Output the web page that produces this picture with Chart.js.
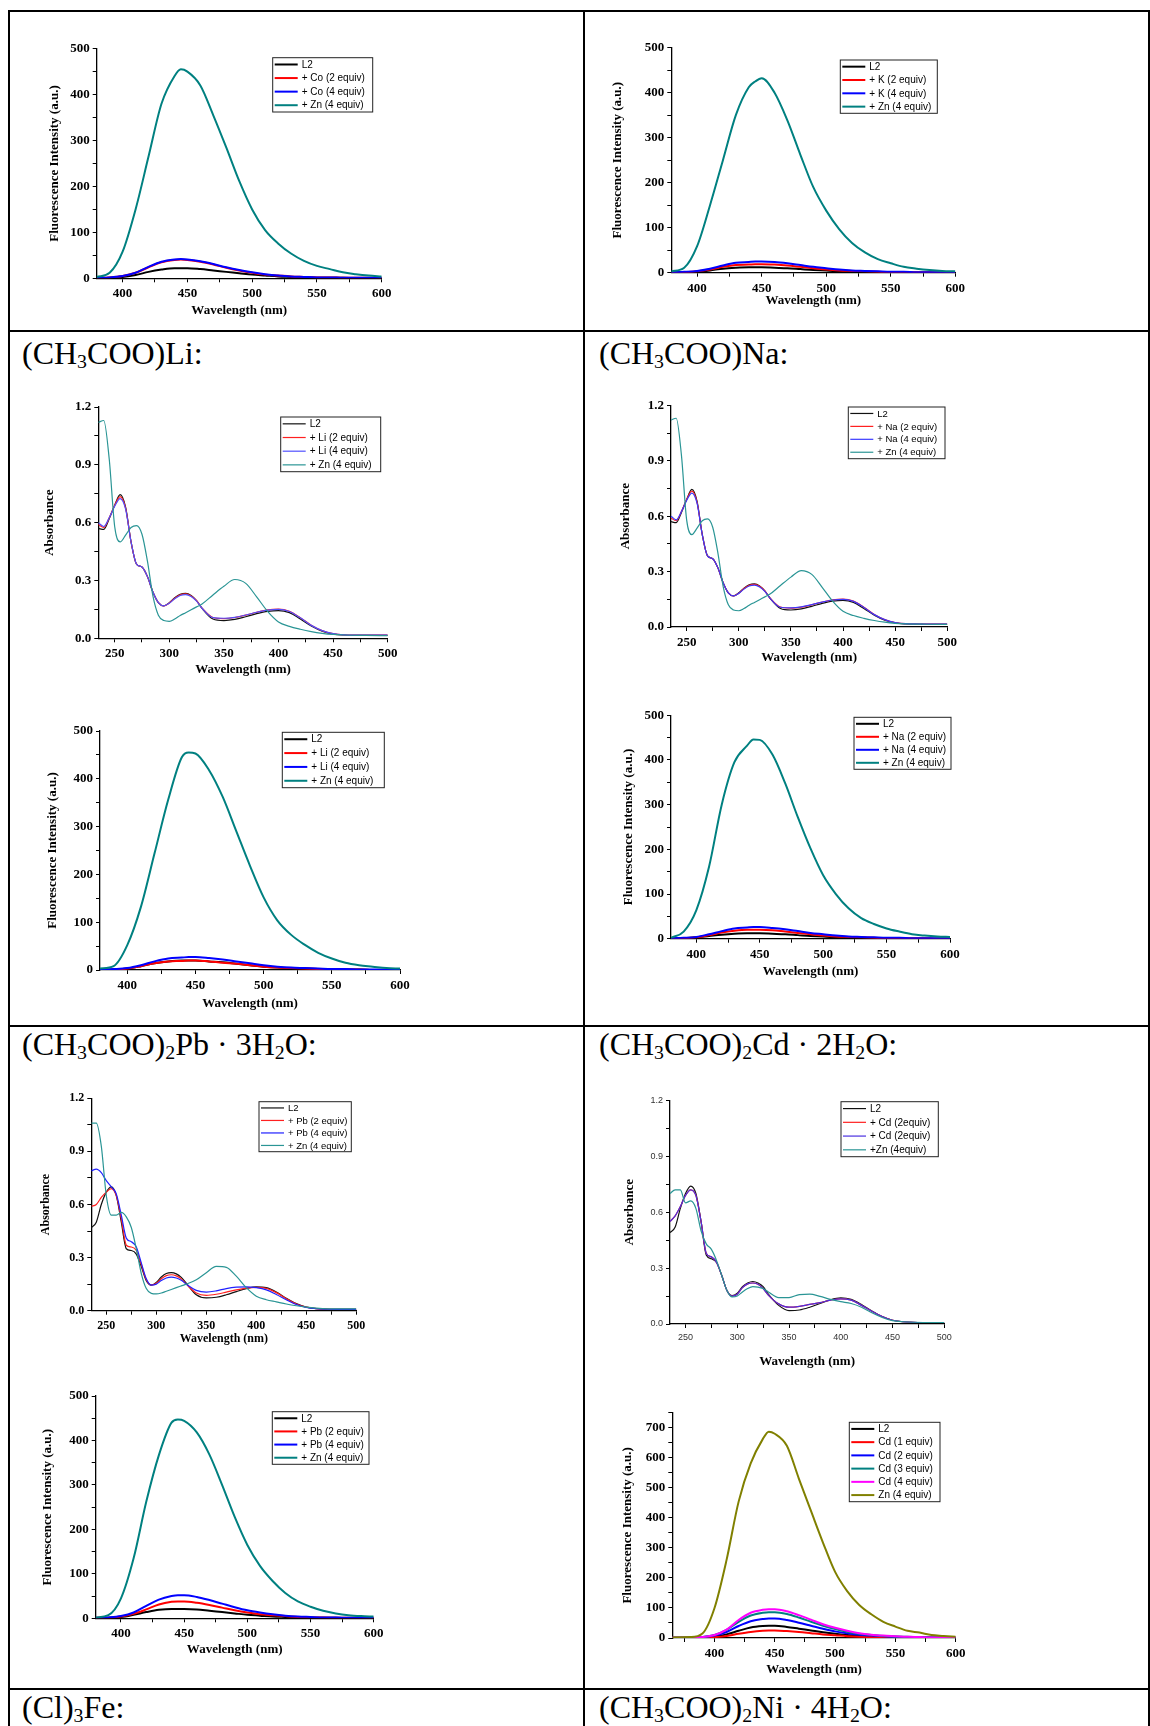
<!DOCTYPE html>
<html>
<head>
<meta charset="utf-8">
<script src="https://cdn.jsdelivr.net/npm/chart.js@4.4.1/dist/chart.umd.min.js"></script>
<style>
  html, body { margin: 0; padding: 0; background: #fff; }
  body { width: 1150px; height: 1726px; position: relative; overflow: hidden;
         font-family: "Liberation Serif", "Times New Roman", serif; }
  .rule { position: absolute; background: #000; }
  .head { position: absolute; font-size: 32px; line-height: 32px; white-space: nowrap; color: #000; }
  .head sub { font-size: 0.62em; vertical-align: -0.2em; line-height: 0; }
  canvas { position: absolute; }
</style>
</head>
<body>
<!-- table grid -->
<div class="rule" style="left:8px;top:10px;width:1142px;height:2px"></div>
<div class="rule" style="left:8px;top:10px;width:2px;height:1716px"></div>
<div class="rule" style="left:583px;top:10px;width:2px;height:1716px"></div>
<div class="rule" style="left:1148px;top:10px;width:2px;height:1716px"></div>
<div class="rule" style="left:8px;top:330px;width:1142px;height:2px"></div>
<div class="rule" style="left:8px;top:1025px;width:1142px;height:2px"></div>
<div class="rule" style="left:8px;top:1688px;width:1142px;height:2px"></div>

<div class="head" style="left:22px;top:337px">(CH<sub>3</sub>COO)Li:</div>
<div class="head" style="left:599px;top:337px">(CH<sub>3</sub>COO)Na:</div>
<div class="head" style="left:22px;top:1028px">(CH<sub>3</sub>COO)<sub>2</sub>Pb · 3H<sub>2</sub>O:</div>
<div class="head" style="left:599px;top:1028px">(CH<sub>3</sub>COO)<sub>2</sub>Cd · 2H<sub>2</sub>O:</div>
<div class="head" style="left:22px;top:1691px">(Cl)<sub>3</sub>Fe:</div>
<div class="head" style="left:599px;top:1691px">(CH<sub>3</sub>COO)<sub>2</sub>Ni · 4H<sub>2</sub>O:</div>

<script>
const SERIF = '"Liberation Serif", "Times New Roman", serif';
const SANS = '"Liberation Sans", Arial, sans-serif';

// emission spectra, wavelength in nm
const flWl = [380, 390, 400, 410, 420, 430, 440, 445, 450, 460, 470, 480, 490, 500, 510, 520, 530, 540, 550, 560, 570, 580, 590, 600];

const coL2  = [0, 1, 3, 7, 14, 19, 22, 22, 22, 20, 17, 14, 11, 8, 6, 4, 3, 2, 1, 1, 1, 0, 0, 0];
const coCo2 = [1, 2, 5, 12, 24, 35, 40, 41, 40, 36, 30, 23, 17, 12, 8, 6, 4, 3, 2, 2, 1, 1, 1, 1];
const coCo4 = [1, 2, 5, 12, 25, 36, 41, 42, 41, 37, 31, 24, 18, 13, 9, 6, 4, 3, 2, 2, 1, 1, 1, 1];
const coZn  = [3, 12, 58, 150, 265, 380, 440, 455, 450, 420, 355, 285, 212, 150, 105, 76, 54, 38, 27, 20, 13, 9, 6, 4];

const kL2 = [0, 1, 2, 5, 9, 11, 12, 12, 12, 11, 10, 8, 6, 5, 3, 2, 2, 1, 1, 1, 0, 0, 0, 0];
const kK2 = [0, 1, 3, 7, 13, 17, 18, 19, 19, 18, 16, 13, 10, 7, 5, 4, 3, 2, 1, 1, 1, 1, 0, 0];
const kK4 = [1, 2, 4, 9, 16, 22, 24, 25, 25, 24, 21, 17, 13, 10, 7, 5, 4, 3, 2, 2, 1, 1, 1, 1];
const kZn = [3, 11, 59, 150, 250, 350, 412, 425, 432, 400, 338, 262, 190, 138, 97, 66, 45, 30, 21, 13, 9, 6, 4, 3];

const liL2  = [0, 1, 3, 8, 14, 18, 20, 20, 20, 18, 16, 13, 10, 7, 5, 4, 3, 2, 1, 1, 1, 0, 0, 0];
const liLi2 = [0, 1, 3, 8, 14, 18, 19, 20, 20, 18, 15, 13, 10, 7, 5, 4, 3, 2, 1, 1, 1, 0, 0, 0];
const liLi4 = [1, 2, 4, 10, 18, 24, 26, 27, 27, 25, 22, 18, 14, 10, 7, 5, 4, 3, 2, 2, 1, 1, 1, 1];
const liZn  = [3, 8, 52, 132, 244, 356, 445, 455, 453, 418, 362, 290, 218, 152, 104, 74, 53, 36, 24, 15, 10, 7, 4, 3];

const naL2  = [0, 1, 3, 6, 9, 11, 12, 12, 12, 11, 10, 8, 6, 5, 3, 2, 2, 1, 1, 1, 0, 0, 0, 0];
const naNa2 = [0, 1, 3, 8, 14, 18, 20, 20, 20, 19, 16, 13, 10, 7, 5, 4, 3, 2, 1, 1, 1, 1, 0, 0];
const naNa4 = [1, 2, 4, 10, 17, 23, 25, 26, 26, 24, 21, 17, 13, 10, 7, 5, 4, 3, 2, 2, 1, 1, 1, 1];
const naZn  = [2, 16, 64, 161, 300, 395, 432, 446, 445, 412, 348, 272, 202, 142, 100, 68, 46, 33, 23, 16, 10, 7, 5, 4];

const pbL2  = [0, 1, 3, 8, 14, 19, 21, 21, 21, 20, 17, 14, 11, 8, 6, 4, 3, 2, 1, 1, 1, 0, 0, 0];
const pbPb2 = [1, 1, 4, 10, 20, 31, 37, 38, 38, 35, 30, 24, 18, 13, 9, 7, 5, 3, 2, 2, 1, 1, 1, 1];
const pbPb4 = [1, 2, 5, 13, 28, 42, 50, 52, 52, 48, 41, 33, 25, 18, 13, 9, 6, 4, 3, 2, 2, 1, 1, 1];
const pbZn  = [2, 7, 45, 135, 262, 367, 440, 447, 444, 418, 368, 300, 228, 165, 118, 84, 57, 38, 26, 17, 11, 7, 5, 4];

const cdWl  = [365, 380, 390, 400, 410, 420, 430, 440, 445, 450, 460, 470, 480, 490, 500, 510, 520, 530, 540, 550, 560, 570, 580, 590, 600];
const cdL2  = [1, 1, 2, 5, 12, 24, 35, 40, 41, 41, 37, 31, 25, 19, 14, 10, 7, 5, 4, 3, 2, 2, 1, 1, 1];
const cdCd1 = [1, 1, 1, 3, 7, 14, 20, 24, 25, 25, 23, 20, 16, 12, 9, 6, 4, 3, 2, 2, 1, 1, 1, 1, 1];
const cdCd2 = [1, 1, 3, 8, 20, 40, 56, 63, 65, 65, 60, 51, 41, 31, 22, 16, 11, 8, 6, 4, 3, 2, 2, 1, 1];
const cdCd3 = [1, 1, 3, 10, 27, 54, 75, 84, 86, 86, 80, 68, 54, 41, 30, 21, 14, 10, 7, 5, 4, 3, 2, 2, 1];
const cdCd4 = [1, 1, 3, 10, 28, 60, 84, 94, 96, 96, 89, 76, 61, 46, 34, 24, 16, 11, 8, 6, 4, 3, 2, 2, 1];
const cdZn  = [2, 3, 15, 100, 260, 454, 581, 662, 687, 680, 640, 530, 423, 317, 220, 156, 110, 79, 54, 38, 24, 18, 10, 7, 4];

// absorption spectra, wavelength in nm
const absWl = [235, 240, 245, 250, 255, 260, 265, 270, 275, 280, 285, 290, 295, 300, 305, 310, 315, 320, 325, 330,
               340, 350, 360, 370, 380, 390, 400, 410, 420, 430, 440, 450, 460, 480, 500];

const liAbsL2  = [0.57, 0.565, 0.62, 0.69, 0.745, 0.68, 0.50, 0.385, 0.37, 0.32, 0.24, 0.185, 0.168, 0.185, 0.21, 0.228, 0.233, 0.222, 0.195, 0.155,
                  0.10, 0.092, 0.098, 0.112, 0.128, 0.14, 0.144, 0.133, 0.10, 0.064, 0.037, 0.022, 0.017, 0.015, 0.015];
const liAbsLi2 = [0.59, 0.575, 0.625, 0.69, 0.735, 0.675, 0.50, 0.385, 0.37, 0.32, 0.24, 0.185, 0.168, 0.183, 0.208, 0.226, 0.231, 0.22, 0.195, 0.157,
                  0.108, 0.102, 0.108, 0.12, 0.135, 0.147, 0.151, 0.14, 0.107, 0.068, 0.04, 0.024, 0.018, 0.016, 0.016];
const liAbsLi4 = [0.60, 0.58, 0.625, 0.685, 0.725, 0.67, 0.50, 0.385, 0.37, 0.32, 0.24, 0.185, 0.168, 0.182, 0.205, 0.222, 0.227, 0.217, 0.193, 0.156,
                  0.107, 0.104, 0.109, 0.121, 0.135, 0.146, 0.15, 0.139, 0.106, 0.067, 0.04, 0.024, 0.018, 0.016, 0.016];
const liAbsZn  = [1.12, 1.13, 0.93, 0.58, 0.50, 0.535, 0.575, 0.585, 0.54, 0.40, 0.22, 0.12, 0.092, 0.088, 0.10, 0.118, 0.133, 0.148, 0.163, 0.178,
                  0.225, 0.27, 0.305, 0.285, 0.215, 0.14, 0.085, 0.062, 0.047, 0.035, 0.026, 0.02, 0.017, 0.015, 0.014];

const naAbsL2  = [0.57, 0.565, 0.62, 0.69, 0.745, 0.68, 0.50, 0.385, 0.37, 0.32, 0.24, 0.185, 0.168, 0.185, 0.21, 0.228, 0.233, 0.222, 0.195, 0.155,
                  0.10, 0.092, 0.098, 0.112, 0.128, 0.14, 0.144, 0.133, 0.10, 0.064, 0.037, 0.022, 0.017, 0.015, 0.015];
const naAbsNa2 = [0.59, 0.575, 0.625, 0.69, 0.735, 0.675, 0.50, 0.385, 0.37, 0.32, 0.24, 0.185, 0.168, 0.183, 0.208, 0.226, 0.231, 0.22, 0.195, 0.157,
                  0.108, 0.102, 0.108, 0.12, 0.135, 0.147, 0.151, 0.14, 0.107, 0.068, 0.04, 0.024, 0.018, 0.016, 0.016];
const naAbsNa4 = [0.60, 0.58, 0.625, 0.685, 0.725, 0.67, 0.50, 0.385, 0.37, 0.32, 0.24, 0.185, 0.168, 0.182, 0.205, 0.222, 0.227, 0.217, 0.193, 0.156,
                  0.107, 0.104, 0.109, 0.121, 0.135, 0.146, 0.15, 0.139, 0.106, 0.067, 0.04, 0.024, 0.018, 0.016, 0.016];
const naAbsZn  = [1.12, 1.13, 0.93, 0.58, 0.50, 0.535, 0.575, 0.585, 0.54, 0.40, 0.22, 0.12, 0.092, 0.088, 0.10, 0.118, 0.133, 0.148, 0.163, 0.178,
                  0.225, 0.27, 0.305, 0.285, 0.215, 0.14, 0.085, 0.062, 0.047, 0.035, 0.026, 0.02, 0.017, 0.015, 0.014];

const pbAbsL2  = [0.47, 0.50, 0.60, 0.67, 0.70, 0.65, 0.50, 0.35, 0.34, 0.32, 0.25, 0.17, 0.145, 0.16, 0.19, 0.21, 0.215, 0.208, 0.188, 0.155,
                  0.09, 0.072, 0.076, 0.09, 0.108, 0.125, 0.135, 0.13, 0.105, 0.07, 0.04, 0.02, 0.012, 0.008, 0.008];
const pbAbsPb2 = [0.59, 0.60, 0.64, 0.67, 0.69, 0.65, 0.52, 0.37, 0.36, 0.34, 0.26, 0.175, 0.145, 0.155, 0.18, 0.198, 0.203, 0.197, 0.18, 0.15,
                  0.10, 0.087, 0.093, 0.105, 0.118, 0.128, 0.132, 0.126, 0.102, 0.068, 0.038, 0.02, 0.012, 0.008, 0.008];
const pbAbsPb4 = [0.79, 0.80, 0.78, 0.735, 0.70, 0.66, 0.54, 0.41, 0.39, 0.36, 0.27, 0.18, 0.145, 0.15, 0.17, 0.185, 0.19, 0.185, 0.172, 0.15,
                  0.115, 0.105, 0.112, 0.125, 0.133, 0.135, 0.13, 0.118, 0.092, 0.062, 0.035, 0.018, 0.011, 0.008, 0.008];
const pbAbsZn  = [1.06, 1.06, 0.93, 0.65, 0.54, 0.54, 0.555, 0.53, 0.47, 0.35, 0.21, 0.125, 0.098, 0.095, 0.10, 0.11, 0.12, 0.13, 0.14, 0.15,
                  0.175, 0.215, 0.25, 0.245, 0.195, 0.13, 0.082, 0.062, 0.05, 0.038, 0.028, 0.02, 0.015, 0.01, 0.01];

const cdAbsL2  = [0.49, 0.52, 0.62, 0.70, 0.74, 0.70, 0.55, 0.37, 0.35, 0.33, 0.26, 0.18, 0.152, 0.165, 0.20, 0.22, 0.228, 0.22, 0.20, 0.16,
                  0.10, 0.072, 0.075, 0.09, 0.11, 0.13, 0.14, 0.132, 0.105, 0.07, 0.04, 0.02, 0.012, 0.008, 0.008];
const cdAbsCdA = [0.55, 0.58, 0.63, 0.69, 0.72, 0.69, 0.55, 0.38, 0.36, 0.33, 0.26, 0.18, 0.15, 0.16, 0.195, 0.215, 0.22, 0.213, 0.19, 0.155,
                  0.108, 0.09, 0.095, 0.105, 0.115, 0.128, 0.135, 0.128, 0.10, 0.068, 0.04, 0.02, 0.012, 0.008, 0.008];
const cdAbsCdB = [0.55, 0.58, 0.63, 0.69, 0.72, 0.69, 0.55, 0.38, 0.36, 0.33, 0.26, 0.18, 0.15, 0.16, 0.195, 0.215, 0.22, 0.213, 0.19, 0.155,
                  0.108, 0.09, 0.095, 0.105, 0.115, 0.128, 0.135, 0.128, 0.10, 0.068, 0.04, 0.02, 0.012, 0.008, 0.008];
const cdAbsZn  = [0.70, 0.72, 0.72, 0.65, 0.66, 0.62, 0.50, 0.43, 0.40, 0.34, 0.26, 0.18, 0.145, 0.15, 0.172, 0.19, 0.20, 0.198, 0.19, 0.172,
                  0.142, 0.142, 0.158, 0.16, 0.148, 0.132, 0.12, 0.11, 0.09, 0.06, 0.035, 0.018, 0.012, 0.008, 0.008];

const FL_TITLE = "Fluorescence Intensity (a.u.)";
const ABS_TITLE = "Absorbance";

// framed legend box, drawn in canvas coordinates
const boxLegend = {
  id: "boxLegend",
  afterDraw(chart, args, opts) {
    if (!opts.rect) return;
    const [x1, y1, x2, y2] = opts.rect;
    const ctx = chart.ctx;
    const sets = chart.data.datasets;
    const row = (y2 - y1) / sets.length;
    ctx.save();
    ctx.fillStyle = "#fff";
    ctx.fillRect(x1, y1, x2 - x1, y2 - y1);
    ctx.strokeStyle = "#222";
    ctx.lineWidth = 1;
    ctx.strokeRect(x1, y1, x2 - x1, y2 - y1);
    ctx.font = opts.size + "px " + SANS;
    ctx.textBaseline = "middle";
    sets.forEach((ds, i) => {
      const yc = y1 + row * (i + 0.5);
      ctx.strokeStyle = ds.borderColor;
      ctx.lineWidth = ds.borderWidth;
      ctx.beginPath();
      ctx.moveTo(x1 + 2, yc);
      ctx.lineTo(x1 + 25, yc);
      ctx.stroke();
      ctx.fillStyle = "#000";
      ctx.fillText(ds.label, x1 + 29, yc + 0.5);
    });
    ctx.restore();
  },
};

function drawPanel(p) {
  const lh = p.titleSize * 1.2;
  const cx = Math.floor(p.yTitleX - lh / 2);
  const cy = Math.floor(p.area.t - 12);
  const w = Math.ceil(p.area.r + 24 - cx);
  const h = Math.ceil(p.xTitleY + lh / 2 + 2 - cy);
  const yAxisW = p.area.l - cx;
  const xAxisH = p.xTitleY + lh / 2 - p.area.b;

  const canvas = document.createElement("canvas");
  canvas.width = w;
  canvas.height = h;
  canvas.style.left = cx + "px";
  canvas.style.top = cy + "px";
  document.body.appendChild(canvas);

  const tickFont = p.tickFont || { family: SERIF, size: 13, weight: "bold" };
  const tickColor = p.tickColor || "#000";
  const titleFont = { family: SERIF, size: p.titleSize, weight: "bold" };
  const grid = { display: true, drawOnChartArea: false, drawTicks: true, tickLength: 4,
                 color: "#000", tickColor: "#000", tickWidth: 1 };
  const border = { display: true, color: "#000", width: 1.3 };

  new Chart(canvas, {
    type: "line",
    data: {
      datasets: p.series.map((s, i) => ({
        label: s.label,
        data: p.xs.map((x, j) => ({ x: x, y: s.data[j] })),
        borderColor: s.color,
        borderWidth: p.lineWidth,
        pointRadius: 0,
        fill: false,
        cubicInterpolationMode: "monotone",
        order: p.series.length - i,
      })),
    },
    options: {
      responsive: false,
      animation: false,
      events: [],
      layout: {
        padding: {
          left: 0,
          top: p.area.t - cy,
          right: cx + w - p.area.r,
          bottom: h - (p.area.b - cy) - xAxisH,
        },
      },
      scales: {
        x: {
          type: "linear",
          min: p.xRange[0],
          max: p.xRange[1],
          grid: grid,
          border: border,
          ticks: {
            stepSize: 25, includeBounds: false, autoSkip: false, maxRotation: 0,
            padding: 4, color: tickColor, font: tickFont,
            callback: (v) => (v % 50 === 0 ? String(v) : ""),
          },
          title: { display: true, text: "Wavelength (nm)", font: titleFont, color: "#000", padding: 0 },
          afterFit(scale) { scale.height = xAxisH; scale.paddingLeft = 0; scale.paddingRight = 0; },
        },
        y: {
          type: "linear",
          min: 0,
          max: p.yMax,
          grid: grid,
          border: border,
          ticks: {
            stepSize: p.yStep / 2, includeBounds: false, autoSkip: false,
            padding: 3, color: tickColor, font: tickFont,
            callback: (v) => {
              const k = Math.round(v / (p.yStep / 2));
              if (k % 2 !== 0) return "";
              return p.yStep < 1 ? (k * p.yStep / 2).toFixed(1) : String(Math.round(v));
            },
          },
          title: { display: true, text: p.yTitle, font: titleFont, color: "#000", padding: 0 },
          afterFit(scale) { scale.width = yAxisW; scale.paddingTop = 0; scale.paddingBottom = 0; },
        },
      },
      plugins: {
        legend: { display: false },
        tooltip: { enabled: false },
        boxLegend: {
          rect: [p.legend[0] - cx, p.legend[1] - cy, p.legend[2] - cx, p.legend[3] - cy],
          size: p.legendSize || 10,
        },
      },
    },
    plugins: [boxLegend],
  });
}

const TEAL = "#008080";
const ABS_TEAL = "#2a9595";

function flPanel(area, yTitleX, xTitleY, legend, metal, l2, m2, m4, zn) {
  drawPanel({
    area, yTitleX, xTitleY, legend,
    titleSize: 13, xRange: [380, 600], yMax: 500, yStep: 100, yTitle: FL_TITLE,
    lineWidth: 2, xs: flWl,
    series: [
      { label: "L2", data: l2, color: "#000" },
      { label: "+ " + metal + " (2 equiv)", data: m2, color: "#ff0000" },
      { label: "+ " + metal + " (4 equiv)", data: m4, color: "#0000ff" },
      { label: "+ Zn (4 equiv)", data: zn, color: TEAL },
    ],
  });
}

function absPanel(area, yTitleX, xTitleY, legend, extra, series) {
  drawPanel(Object.assign({
    area, yTitleX, xTitleY, legend,
    titleSize: 13, xRange: [235, 500], yMax: 1.2, yStep: 0.3, yTitle: ABS_TITLE,
    lineWidth: 1.2, xs: absWl, series,
  }, extra));
}

flPanel({ l: 96.7, t: 48.7, r: 381.7, b: 278.3 }, 55, 311, [272.7, 57.7, 372.7, 112], "Co", coL2, coCo2, coCo4, coZn);
flPanel({ l: 671.3, t: 47.7, r: 955.3, b: 272.7 }, 618, 300.3, [840.3, 60, 937.3, 113.3], "K", kL2, kK2, kK4, kZn);
flPanel({ l: 100, t: 731, r: 400, b: 970 }, 53.3, 1004, [282.3, 732.3, 384.3, 787.7], "Li", liL2, liLi2, liLi4, liZn);
flPanel({ l: 671, t: 715.3, r: 950, b: 938.7 }, 629, 971.7, [854, 717.3, 951, 769.3], "Na", naL2, naNa2, naNa4, naZn);
flPanel({ l: 95.7, t: 1396, r: 373.7, b: 1618.3 }, 48, 1650, [272.3, 1411.7, 369, 1464.3], "Pb", pbL2, pbPb2, pbPb4, pbZn);

absPanel({ l: 98.3, t: 407, r: 387.7, b: 638.3 }, 50.7, 669.3, [280.7, 417, 380.7, 471.7], {}, [
  { label: "L2", data: liAbsL2, color: "#111" },
  { label: "+ Li (2 equiv)", data: liAbsLi2, color: "#ff2020" },
  { label: "+ Li (4 equiv)", data: liAbsLi4, color: "#5050ff" },
  { label: "+ Zn (4 equiv)", data: liAbsZn, color: ABS_TEAL },
]);
absPanel({ l: 671, t: 405.3, r: 947.3, b: 627 }, 626.7, 658, [848.3, 407, 945, 458.7], { legendSize: 9.5 }, [
  { label: "L2", data: naAbsL2, color: "#111" },
  { label: "+ Na (2 equiv)", data: naAbsNa2, color: "#ff2020" },
  { label: "+ Na (4 equiv)", data: naAbsNa4, color: "#3a3aff" },
  { label: "+ Zn (4 equiv)", data: naAbsZn, color: ABS_TEAL },
]);
absPanel({ l: 91.3, t: 1098.3, r: 356.3, b: 1310.7 }, 46.3, 1339.3, [259, 1101.7, 351.3, 1151.7],
  { titleSize: 12, legendSize: 9.5, tickFont: { family: SERIF, size: 12, weight: "bold" } }, [
  { label: "L2", data: pbAbsL2, color: "#111" },
  { label: "+ Pb (2 equiv)", data: pbAbsPb2, color: "#ff2020" },
  { label: "+ Pb (4 equiv)", data: pbAbsPb4, color: "#2020ff" },
  { label: "+ Zn (4 equiv)", data: pbAbsZn, color: ABS_TEAL },
]);
absPanel({ l: 670, t: 1100.3, r: 944.3, b: 1324 }, 630.7, 1361.7, [841, 1101.7, 938.3, 1156.7],
  { tickFont: { family: SANS, size: 9 }, tickColor: "#333" }, [
  { label: "L2", data: cdAbsL2, color: "#111" },
  { label: "+ Cd (2equiv)", data: cdAbsCdA, color: "#ff2020" },
  { label: "+ Cd (2equiv)", data: cdAbsCdB, color: "#4a30e0" },
  { label: "+Zn (4equiv)", data: cdAbsZn, color: ABS_TEAL },
]);

drawPanel({
  area: { l: 672.3, t: 1412.7, r: 955.7, b: 1638 }, yTitleX: 628.3, xTitleY: 1670,
  legend: [849.3, 1422.3, 940, 1501.7],
  titleSize: 13, xRange: [365, 600], yMax: 750, yStep: 100, yTitle: FL_TITLE,
  lineWidth: 2, xs: cdWl,
  series: [
    { label: "L2", data: cdL2, color: "#000" },
    { label: "Cd (1 equiv)", data: cdCd1, color: "#ff0000" },
    { label: "Cd (2 equiv)", data: cdCd2, color: "#0000ff" },
    { label: "Cd (3 equiv)", data: cdCd3, color: TEAL },
    { label: "Cd (4 equiv)", data: cdCd4, color: "#ff00ff" },
    { label: "Zn (4 equiv)", data: cdZn, color: "#808000" },
  ],
});
</script>
</body>
</html>
